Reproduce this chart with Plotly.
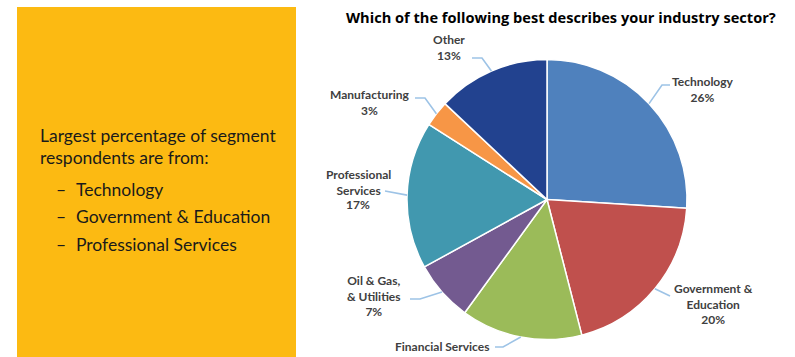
import math
import plotly.graph_objects as go

# Survey responses by industry sector (percent)
sectors = ["Technology", "Government & Education", "Financial Services",
           "Oil & Gas, & Utilities", "Professional Services", "Manufacturing", "Other"]
shares = [26, 20, 14, 7, 17, 3, 13]
label_lines = [["Technology"], ["Government &", "Education"], ["Financial Services"],
               ["Oil & Gas,", "& Utilities"], ["Professional", "Services"],
               ["Manufacturing"], ["Other"]]
colors = ["#4F81BD", "#C0504D", "#9BBB59", "#735A90", "#4198AF", "#F79646", "#22428F"]

title_text = "Which of the following best describes your industry sector?"
summary_head = ["Largest percentage of segment", "respondents are from:"]
summary_items = ["Technology", "Government & Education", "Professional Services"]

W, H = 795, 357
CX, CY, R = 547, 199.5, 140


def px(x):
    return x / W


def py(y):
    return 1 - y / H


fig = go.Figure()
fig.add_trace(go.Pie(
    labels=sectors, values=shares, sort=False, direction="clockwise", rotation=0,
    marker=dict(colors=colors, line=dict(color="white", width=1.5)),
    textinfo="none", hoverinfo="label+percent", showlegend=False,
    domain=dict(x=[px(CX - R), px(CX + R)], y=[py(CY + R), py(CY - R)]),
))

shapes = [dict(type="rect", xref="paper", yref="paper", layer="below",
               x0=px(17), x1=px(296), y0=-0.05, y1=py(7),
               fillcolor="#FCBA12", line=dict(width=0))]
annotations = []

# name centre, optional separate percent centre, leader elbow and end, per sector
label_layout = [
    dict(pos=(703, 89), pct=None, elbow=(662, 85), end=(670, 85)),
    dict(pos=(713, 304), pct=None, elbow=(670, 296), end=(670, 296)),
    dict(pos=(442, 354), pct=None, elbow=(503, 347), end=(495, 347)),
    dict(pos=(374, 296), pct=None, elbow=(420, 299), end=(410, 299)),
    dict(pos=(358, 182), pct=(358, 205), elbow=(385, 191), end=(385, 191)),
    dict(pos=(369, 103), pct=None, elbow=(425, 98), end=(415, 98)),
    dict(pos=(449, 48), pct=None, elbow=(482, 58), end=(472, 58)),
]

label_font = dict(family="Lato", size=12, color="#404040")
total = sum(shares)
cum = 0
for name_lines, v, lay in zip(label_lines, shares, label_layout):
    mid = (cum + v / 2) / total * 2 * math.pi
    cum += v
    ex, ey = CX + R * math.sin(mid), CY - R * math.cos(mid)
    (ax, ay), (bx, by) = lay["elbow"], lay["end"]
    path = f"M {px(ex)},{py(ey)} L {px(ax)},{py(ay)} L {px(bx)},{py(by)}"
    shapes.append(dict(type="path", xref="paper", yref="paper", path=path,
                       line=dict(color="#9DC3E6", width=1.6)))
    pct = f"{round(v / total * 100)}%"
    name = "<br>".join(name_lines)
    x, y = lay["pos"]
    if lay["pct"] is None:
        annotations.append(dict(xref="paper", yref="paper", x=px(x), y=py(y),
                                text=f"<b>{name}<br>{pct}</b>", showarrow=False,
                                xanchor="center", yanchor="middle", align="center",
                                font=label_font))
    else:
        annotations.append(dict(xref="paper", yref="paper", x=px(x), y=py(y),
                                text=f"<b>{name}</b>", showarrow=False,
                                xanchor="center", yanchor="middle", align="center",
                                font=label_font))
        qx, qy = lay["pct"]
        annotations.append(dict(xref="paper", yref="paper", x=px(qx), y=py(qy),
                                text=f"<b>{pct}</b>", showarrow=False,
                                xanchor="center", yanchor="middle",
                                font=label_font))

annotations.append(dict(xref="paper", yref="paper", x=px(561), y=py(17),
                        text=f"<b>{title_text}</b>", showarrow=False,
                        xanchor="center", yanchor="middle",
                        font=dict(family="Open Sans", size=14.6, color="#000000")))

text_font = dict(family="Lato", size=17.5, color="#1A1A1A")
for i, line in enumerate(summary_head):
    annotations.append(dict(xref="paper", yref="paper", x=px(38), y=py(135 + 22 * i),
                            text=line, showarrow=False, xanchor="left",
                            yanchor="middle", font=text_font))
for i, item in enumerate(summary_items):
    yy = 189 + 27.5 * i
    annotations.append(dict(xref="paper", yref="paper", x=px(54), y=py(yy),
                            text="–", showarrow=False, xanchor="left",
                            yanchor="middle", font=text_font))
    annotations.append(dict(xref="paper", yref="paper", x=px(74), y=py(yy),
                            text=item, showarrow=False, xanchor="left",
                            yanchor="middle", font=text_font))

fig.update_layout(
    width=W, height=H, margin=dict(l=0, r=0, t=0, b=0),
    paper_bgcolor="white", plot_bgcolor="white",
    shapes=shapes, annotations=annotations,
)

fig.write_html("out.html", config={"displayModeBar": False})
